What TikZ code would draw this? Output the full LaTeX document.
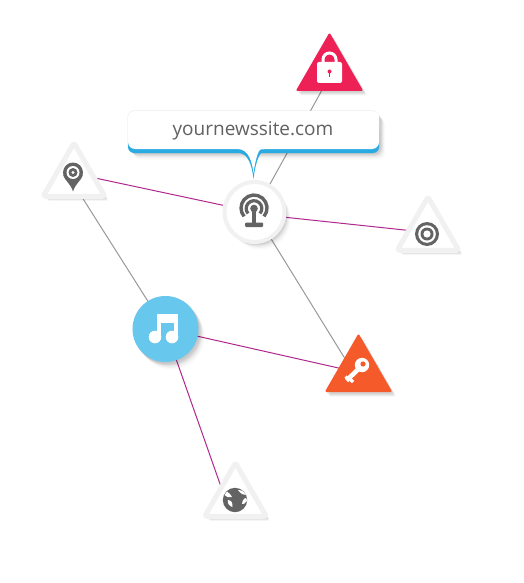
\documentclass[tikz,border=0pt]{standalone}
\usepackage{fontspec}
\setmainfont{Open Sans}
\usetikzlibrary{shapes.geometric,shadows,backgrounds}
\definecolor{iconGray}{HTML}{636363}
\definecolor{paleRim}{HTML}{F1F1F1}
\definecolor{lockRed}{HTML}{ED2156}
\definecolor{keyOrange}{HTML}{F55B2A}
\definecolor{musicBlue}{HTML}{68C7EC}
\definecolor{calloutBlue}{HTML}{29ABE2}
\definecolor{linkGray}{HTML}{999999}
\definecolor{linkPurple}{HTML}{B0288F}
\tikzset{
  softshadow/.style={
    general shadow={fill=black,fill opacity=.04,shadow xshift=1pt,shadow yshift=-1.5pt},
    general shadow={fill=black,fill opacity=.05,shadow xshift=2pt,shadow yshift=-2.5pt},
    general shadow={fill=black,fill opacity=.06,shadow xshift=3pt,shadow yshift=-3.5pt},
    general shadow={fill=black,fill opacity=.04,shadow xshift=4pt,shadow yshift=-4.5pt}},
  wideshadow/.style={softshadow,
    general shadow={fill=black,fill opacity=.03,shadow xshift=5pt,shadow yshift=-6pt},
    general shadow={fill=black,fill opacity=.02,shadow xshift=6pt,shadow yshift=-7.5pt}},
  glowshadow/.style={
    general shadow={fill=black,fill opacity=.05,shadow xshift=0pt,shadow yshift=1pt},
    general shadow={fill=black,fill opacity=.04,shadow xshift=-1pt,shadow yshift=0pt}},
  tribase/.style={regular polygon,regular polygon sides=3,inner sep=0pt,outer sep=0pt,
    rounded corners=2pt,softshadow},
  solidtri/.style={tribase,minimum size=78pt,fill=#1},
  paletri/.style={tribase,minimum size=71pt,draw=paleRim,line width=5pt,line join=round,fill=white},
  hubdisc/.style={circle,inner sep=0pt,outer sep=0pt,wideshadow},
  grayline/.style={draw=linkGray,line width=1pt},
  purpleline/.style={draw=linkPurple,line width=1pt},
  urltext/.style={font=\fontsize{19}{19}\selectfont,text=black!62,inner sep=0pt}
}
\begin{document}
\begin{tikzpicture}[x=1pt,y=-1pt]
\useasboundingbox (0,0) rectangle (524,583);

% nodes
\node[solidtri=lockRed] (lock) at (329.5,71.5) {};
\node[solidtri=keyOrange] (key) at (358.5,372.5) {};
\node[paletri] (pin) at (74,178.5) {};
\node[paletri] (target) at (428,232.5) {};
\node[paletri] (globe) at (235.5,498.5) {};
\node[hubdisc,minimum size=60pt,draw=paleRim,line width=4pt,fill=white] (hub) at (254.5,212) {};
\node[hubdisc,minimum size=66pt,fill=musicBlue] (music) at (165.5,329) {};

% connectors
\begin{pgfonlayer}{background}
\fill[white] (0,0) rectangle (524,583);
\draw[grayline] ([yshift=-5pt]lock.center) -- (hub.center);
\draw[grayline] ([yshift=-6pt]pin.center) -- (music.center);
\draw[grayline] (hub.center) -- ([xshift=-5pt]key.center);
\draw[purpleline] ([yshift=5pt]pin.center) -- (hub.center);
\draw[purpleline] ([yshift=-2pt]hub.center) -- (target.center);
\draw[purpleline] (music.center) -- (key.center);
\draw[purpleline] (music.center) -- ([xshift=-10pt,yshift=-1pt]globe.center);
\end{pgfonlayer}

% callout: shadow, blue rim, white face
\path[wideshadow,glowshadow,fill=white,rounded corners=7pt]
  (128,111) -- (379,111) -- (379,152) -- (128,152) -- cycle;
\path[fill=calloutBlue,rounded corners=6pt]
  (128,125) -- (379,125) -- (379,153) -- (268,153) [sharp corners]
  .. controls (259,153) and (255,165) .. (253.5,179)
  .. controls (252,165) and (248,153) .. (238,153) [rounded corners=6pt]
  -- (128,153) -- cycle;
\path[fill=white,rounded corners=7pt]
  (128,111) -- (379,111) -- (379,149) -- (268,149) [sharp corners]
  .. controls (258,149.5) and (255,162) .. (253.5,173)
  .. controls (252,162) and (249,149.5) .. (238,149) [rounded corners=7pt]
  -- (128,149) -- cycle;
\node[urltext] (url) at (253,130.5) {yournewssite.com};

% lock icon
\fill[white,rounded corners=2pt] (317,62) rectangle (342,83);
\draw[white,line width=3pt] (323,63) -- (323,59.5) arc[start angle=180,end angle=360,radius=6.5] -- (336,63);
\fill[lockRed] (329.5,71.5) circle (2);
\fill[lockRed] (328.6,72) rectangle (330.4,77);

% pin icon
\fill[iconGray] (63.2,175) .. controls (65,181) and (71,184) .. (73,191.5)
  .. controls (75,184) and (81,181) .. (82.8,175) -- cycle;
\fill[iconGray] (73,172.5) circle (10);
\fill[white] (73,172.5) circle (6.5);
\fill[iconGray] (73,172.5) circle (4.5);
\fill[white] (73,172.5) circle (1.6);

% target icon
\fill[iconGray] (427,234) circle (12);
\fill[white] (427,234) circle (8.8);
\fill[iconGray] (427,234) circle (6.5);
\fill[white] (427,234) circle (3.6);

% broadcast icon
\draw[iconGray,line width=3.4pt] (264,216.4) arc[start angle=40,end angle=-220,radius=13];
\draw[iconGray,line width=3.2pt] (260,213.5) arc[start angle=40,end angle=-220,radius=7.8];
\fill[iconGray] (254,208.5) circle (3.8);
\fill[iconGray] (252.3,209) rectangle (255.7,224);
\fill[iconGray,rounded corners=1pt] (245,222.5) rectangle (263,227);

% music icon
\fill[white] (157,314) rectangle (178,337);
\fill[musicBlue] (161,323) rectangle (174,340);
\fill[musicBlue] (157,338) rectangle (178,345);
\fill[musicBlue] (161,323) rectangle (165,345);
\fill[white] (155,337) circle (6.3);
\fill[white] (172,337) circle (6.3);

% key icon
\fill[white] (362,365) circle (7.2);
\fill[keyOrange] (363,364) circle (2.6);
\draw[white,line width=4.6pt] (358,369.5) -- (346.5,380.5);
\draw[white,line width=3.5pt] (350,379) -- (353,382);
\draw[white,line width=3pt] (345.5,376.5) -- (349,380);

% globe icon
\fill[iconGray] (235,500) circle (12.2);
\fill[white] (227,491.5) .. controls (230,494) and (232,496) .. (232,497)
  .. controls (229,498) and (226,497) .. (224.5,495) -- cycle;
\fill[white] (228,500) .. controls (231,500) and (233,503) .. (232.5,507)
  .. controls (229,506) and (227,503) .. (228,500) -- cycle;
\fill[white] (238,490) .. controls (242,490) and (245,492) .. (246,495)
  .. controls (243,495) and (241,494) .. (238,490) -- cycle;
\fill[white] (245,498) .. controls (246.5,498) and (247,499) .. (247,501)
  .. controls (245.5,503) and (243,505) .. (242,504) .. controls (242,502) and (243,499) .. (245,498) -- cycle;
\end{tikzpicture}
\end{document}
